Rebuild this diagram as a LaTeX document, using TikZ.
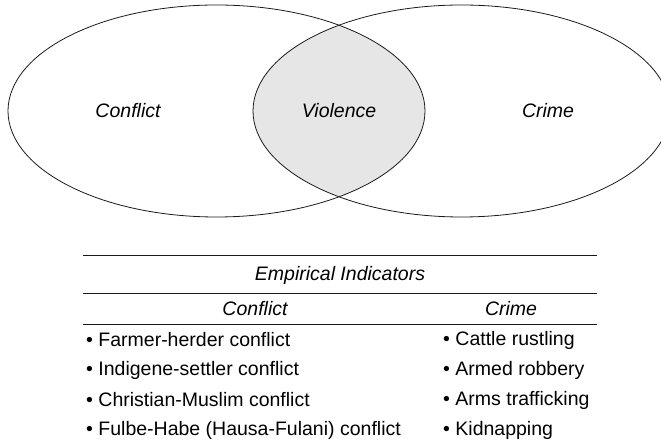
\documentclass[tikz,border=0pt]{standalone}
\usepackage{fontspec}
\setmainfont{Liberation Sans}
\usepackage{tikz}
\usetikzlibrary{calc}
\definecolor{my_black}{HTML}{1A1A1A}
\definecolor{my_lightgray}{HTML}{E6E6E6}

\begin{document}
\begin{tikzpicture}[
    x=1pt, y=-1pt,
    set/.style={my_black, line width=0.8pt},
    setlabel/.style={font=\fontsize{19.5}{23}\selectfont\itshape, inner sep=0pt},
    rule/.style={my_black, line width=0.9pt},
    colhead/.style={font=\fontsize{19.5}{23}\selectfont\itshape, inner sep=0pt},
    item/.style={font=\fontsize{19.5}{23}\selectfont, anchor=west, inner sep=0pt}
]
\useasboundingbox (0,0) rectangle (661,443);

% Venn part:
%   L = centre of the conflict set, R = centre of the crime set
%   both ellipses have the same radii, the right one runs past the page
\coordinate (L) at (216.5,111);
\coordinate (R) at (461.5,111);

% Overlap (violence) in light gray
\begin{scope}
    \clip (L) ellipse [x radius=208.5, y radius=106];
    \fill[my_lightgray] (R) ellipse [x radius=208.5, y radius=106];
\end{scope}

% Outlines of the two sets
\draw[set] (L) ellipse [x radius=208.5, y radius=106];
\draw[set] (R) ellipse [x radius=208.5, y radius=106];

% Set labels
\node[setlabel] (conflict) at (128,111) {Conflict};
\node[setlabel] (violence) at (339,111) {Violence};
\node[setlabel] (crime) at (548,111) {Crime};

% Table part: three horizontal rules
\coordinate (t1w) at (83,255);  \coordinate (t1e) at (597,255);
\coordinate (t2w) at (83,293);  \coordinate (t2e) at (597,293);
\coordinate (t3w) at (83,324);  \coordinate (t3e) at (597,324);
\draw[rule] (t1w) -- (t1e);
\draw[rule] (t2w) -- (t2e);
\draw[rule] (t3w) -- (t3e);

% Headings
\node[colhead] (indicators) at (340,275) {Empirical Indicators};
\node[colhead] (conflicthead) at (255,309) {Conflict};
\node[colhead] (crimehead) at (511,309) {Crime};

% Left column: conflict indicators
\node[item] (conf1) at (86,340) {• Farmer-herder conflict};
\node[item] (conf2) at (86,370) {• Indigene-settler conflict};
\node[item] (conf3) at (86,400) {• Christian-Muslim conflict};
\node[item] (conf4) at (86,430) {• Fulbe-Habe (Hausa-Fulani) conflict};

% Right column: crime indicators
\node[item] (crime1) at (443,340) {• Cattle rustling};
\node[item] (crime2) at (443,370) {• Armed robbery};
\node[item] (crime3) at (443,400) {• Arms trafficking};
\node[item] (crime4) at (443,430) {• Kidnapping};

\end{tikzpicture}
\end{document}
